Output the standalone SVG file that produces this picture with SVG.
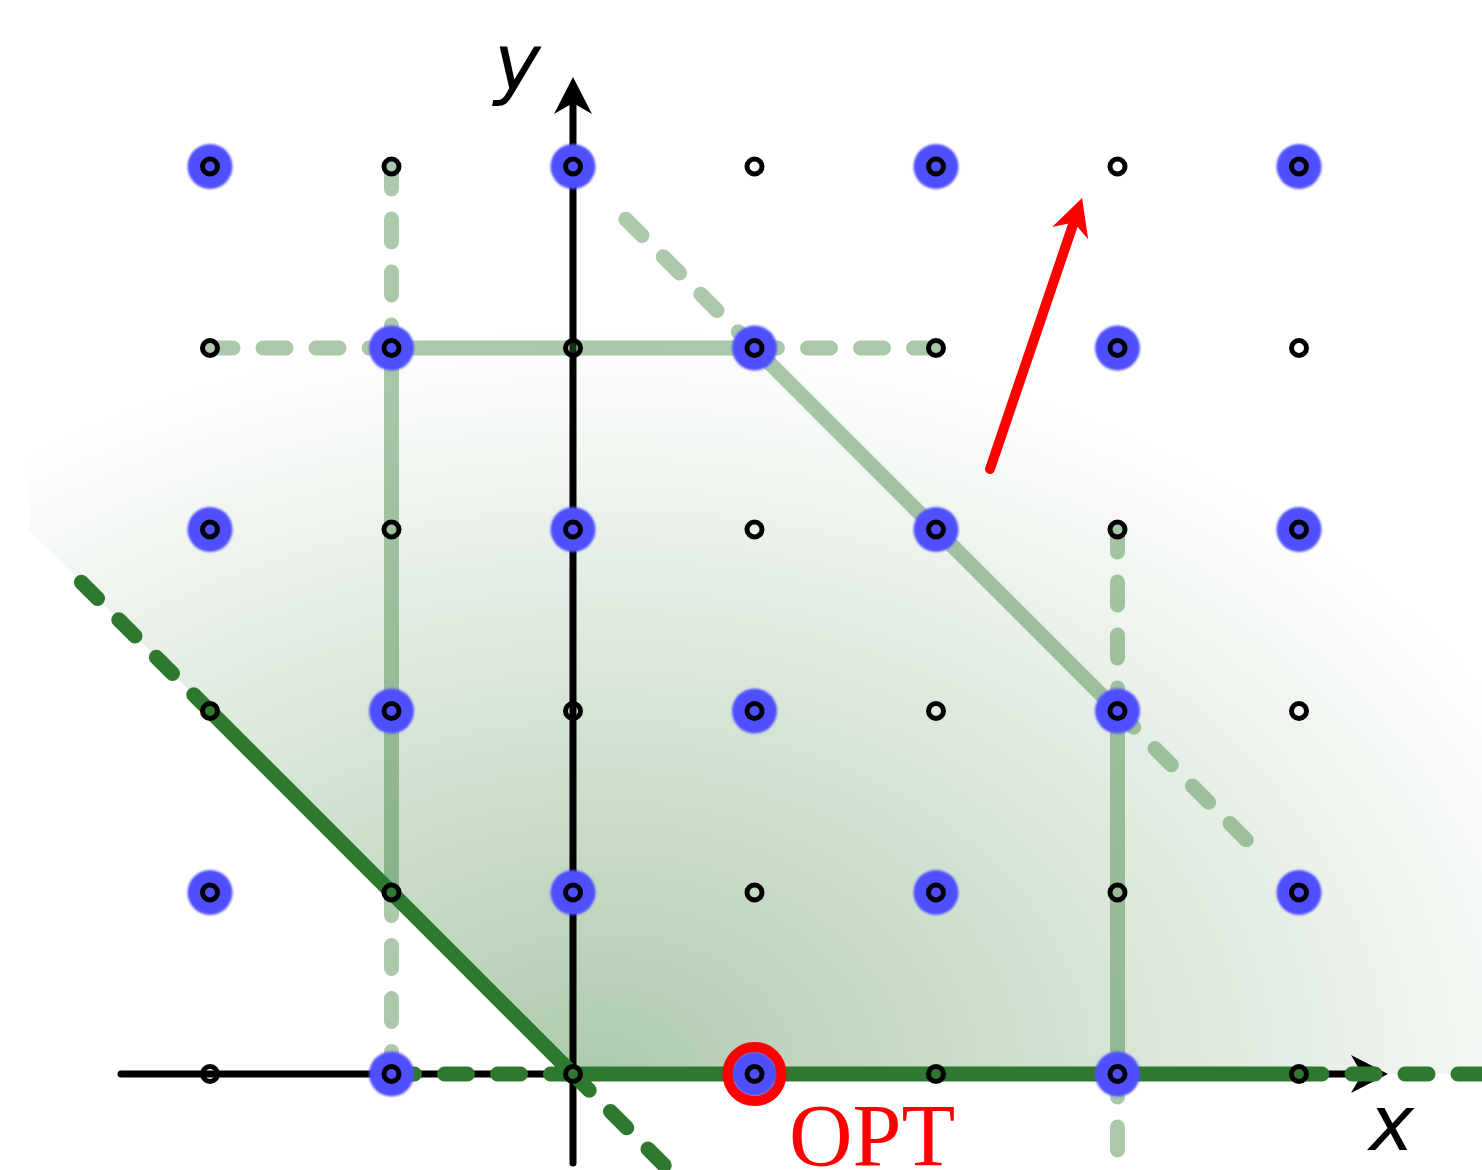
<svg xmlns="http://www.w3.org/2000/svg" xmlns:xlink="http://www.w3.org/1999/xlink" width="1482" height="1170" viewBox="0 0 1482 1170">
<defs>
<radialGradient id="shade" gradientUnits="userSpaceOnUse" cx="600" cy="1074" r="1040" gradientTransform="matrix(1 0 0 0.72 0 300.72)">
<stop offset="0" stop-color="#2f782f" stop-opacity="0.39"/>
<stop offset="1" stop-color="#2f782f" stop-opacity="0"/>
</radialGradient>
<filter id="soft" x="-20%" y="-20%" width="140%" height="140%"><feGaussianBlur stdDeviation="0.8"/></filter>
<marker id="ahK" markerUnits="userSpaceOnUse" orient="auto" refX="-26" refY="0" overflow="visible"><path d="M0,0 L-37,-19 L-26,0 L-37,19 Z" fill="#000"/></marker>
<marker id="ahR" markerUnits="userSpaceOnUse" orient="auto" refX="-26" refY="0" overflow="visible"><path d="M0,0 L-37,-19 L-26,0 L-37,19 Z" fill="#ff0000"/></marker>
<circle id="ring" r="7.5" class="ring"/>
<circle id="dot" r="22.5" class="dot"/>
</defs>
<style>
.ring{fill:none;stroke:#000;stroke-width:5}
.dot{fill:#4f4fff;filter:url(#soft)}
.axis{fill:none;stroke:#000;stroke-width:7;stroke-linecap:round}
.g{fill:none;stroke:#2f782f;stroke-width:15;stroke-linecap:round;stroke-linejoin:round}
.d{stroke-dasharray:23 30}
.lbl{font-family:"DejaVu Sans",sans-serif;font-style:italic;fill:#000}
</style>
<rect width="1482" height="1170" fill="#fff"/>
<polygon id="feasible-shade" points="29,0 29,530 573,1074 1482,1074 1482,0" fill="url(#shade)"/>
<g id="connectors">
<g id="axes">
<path class="axis" d="M121,1074 H1362" marker-end="url(#ahK)"/>
<path class="axis" d="M573,1163 V103" marker-end="url(#ahK)"/>
</g>
<g id="light-hull" opacity="0.4">
<path class="g" d="M391.5,892.5 V348 H754.5 L1117.5,711 V1074"/>
<path class="g d" d="M391.5,348 V166.5"/>
<path class="g d" d="M391.5,892.5 V1074"/>
<path class="g d" d="M210,348 H391.5"/>
<path class="g d" d="M754.5,348 H936"/>
<path class="g d" d="M754.5,348 L624.5,218"/>
<path class="g d" d="M1117.5,711 L1247.5,841"/>
<path class="g d" d="M1117.5,711 V529.5"/>
<path class="g d" d="M1117.5,1074 V1162"/>
</g>
<g id="dark-hull">
<path class="g" d="M210,711 L573,1074 H1299"/>
<path class="g d" d="M210,711 L81.3,582.3"/>
<path class="g d" d="M573,1074 L673,1174"/>
<path class="g d" d="M391.5,1074 H573"/>
<path class="g d" d="M1299,1074 H1500"/>
</g>
<path id="objective" d="M990,469 L1073.7,222.6" fill="none" stroke="#ff0000" stroke-width="10" stroke-linecap="round" marker-end="url(#ahR)"/>
</g>
<g id="nodes">
<g id="p_m2_5"><use xlink:href="#dot" x="210" y="166.5"/><use xlink:href="#ring" x="210" y="166.5"/></g>
<g id="p_m1_5"><use xlink:href="#ring" x="391.5" y="166.5"/></g>
<g id="p_0_5"><use xlink:href="#dot" x="573" y="166.5"/><use xlink:href="#ring" x="573" y="166.5"/></g>
<g id="p_1_5"><use xlink:href="#ring" x="754.5" y="166.5"/></g>
<g id="p_2_5"><use xlink:href="#dot" x="936" y="166.5"/><use xlink:href="#ring" x="936" y="166.5"/></g>
<g id="p_3_5"><use xlink:href="#ring" x="1117.5" y="166.5"/></g>
<g id="p_4_5"><use xlink:href="#dot" x="1299" y="166.5"/><use xlink:href="#ring" x="1299" y="166.5"/></g>

<g id="p_m2_4"><use xlink:href="#ring" x="210" y="348"/></g>
<g id="p_m1_4"><use xlink:href="#dot" x="391.5" y="348"/><use xlink:href="#ring" x="391.5" y="348"/></g>
<g id="p_0_4"><use xlink:href="#ring" x="573" y="348"/></g>
<g id="p_1_4"><use xlink:href="#dot" x="754.5" y="348"/><use xlink:href="#ring" x="754.5" y="348"/></g>
<g id="p_2_4"><use xlink:href="#ring" x="936" y="348"/></g>
<g id="p_3_4"><use xlink:href="#dot" x="1117.5" y="348"/><use xlink:href="#ring" x="1117.5" y="348"/></g>
<g id="p_4_4"><use xlink:href="#ring" x="1299" y="348"/></g>

<g id="p_m2_3"><use xlink:href="#dot" x="210" y="529.5"/><use xlink:href="#ring" x="210" y="529.5"/></g>
<g id="p_m1_3"><use xlink:href="#ring" x="391.5" y="529.5"/></g>
<g id="p_0_3"><use xlink:href="#dot" x="573" y="529.5"/><use xlink:href="#ring" x="573" y="529.5"/></g>
<g id="p_1_3"><use xlink:href="#ring" x="754.5" y="529.5"/></g>
<g id="p_2_3"><use xlink:href="#dot" x="936" y="529.5"/><use xlink:href="#ring" x="936" y="529.5"/></g>
<g id="p_3_3"><use xlink:href="#ring" x="1117.5" y="529.5"/></g>
<g id="p_4_3"><use xlink:href="#dot" x="1299" y="529.5"/><use xlink:href="#ring" x="1299" y="529.5"/></g>

<g id="p_m2_2"><use xlink:href="#ring" x="210" y="711"/></g>
<g id="p_m1_2"><use xlink:href="#dot" x="391.5" y="711"/><use xlink:href="#ring" x="391.5" y="711"/></g>
<g id="p_0_2"><use xlink:href="#ring" x="573" y="711"/></g>
<g id="p_1_2"><use xlink:href="#dot" x="754.5" y="711"/><use xlink:href="#ring" x="754.5" y="711"/></g>
<g id="p_2_2"><use xlink:href="#ring" x="936" y="711"/></g>
<g id="p_3_2"><use xlink:href="#dot" x="1117.5" y="711"/><use xlink:href="#ring" x="1117.5" y="711"/></g>
<g id="p_4_2"><use xlink:href="#ring" x="1299" y="711"/></g>

<g id="p_m2_1"><use xlink:href="#dot" x="210" y="892.5"/><use xlink:href="#ring" x="210" y="892.5"/></g>
<g id="p_m1_1"><use xlink:href="#ring" x="391.5" y="892.5"/></g>
<g id="p_0_1"><use xlink:href="#dot" x="573" y="892.5"/><use xlink:href="#ring" x="573" y="892.5"/></g>
<g id="p_1_1"><use xlink:href="#ring" x="754.5" y="892.5"/></g>
<g id="p_2_1"><use xlink:href="#dot" x="936" y="892.5"/><use xlink:href="#ring" x="936" y="892.5"/></g>
<g id="p_3_1"><use xlink:href="#ring" x="1117.5" y="892.5"/></g>
<g id="p_4_1"><use xlink:href="#dot" x="1299" y="892.5"/><use xlink:href="#ring" x="1299" y="892.5"/></g>

<g id="p_m2_0"><use xlink:href="#ring" x="210" y="1074"/></g>
<g id="p_m1_0"><use xlink:href="#dot" x="391.5" y="1074"/><use xlink:href="#ring" x="391.5" y="1074"/></g>
<g id="p_0_0"><use xlink:href="#ring" x="573" y="1074"/></g>
<g id="p_1_0"><use xlink:href="#dot" x="754.5" y="1074"/><circle cx="754.5" cy="1074" r="27" fill="none" stroke="#ff0000" stroke-width="10"/><use xlink:href="#ring" x="754.5" y="1074"/></g>
<g id="p_2_0"><use xlink:href="#ring" x="936" y="1074"/></g>
<g id="p_3_0"><use xlink:href="#dot" x="1117.5" y="1074"/><use xlink:href="#ring" x="1117.5" y="1074"/></g>
<g id="p_4_0"><use xlink:href="#ring" x="1299" y="1074"/></g>
</g>
<g id="labels">
<text class="lbl" x="494" y="90" font-size="79">y</text>
<text class="lbl" x="1369" y="1150" font-size="76">x</text>
<text x="789" y="1165" font-family="Liberation Serif, serif" font-size="88" fill="#ff0000">OPT</text>
</g>
</svg>
